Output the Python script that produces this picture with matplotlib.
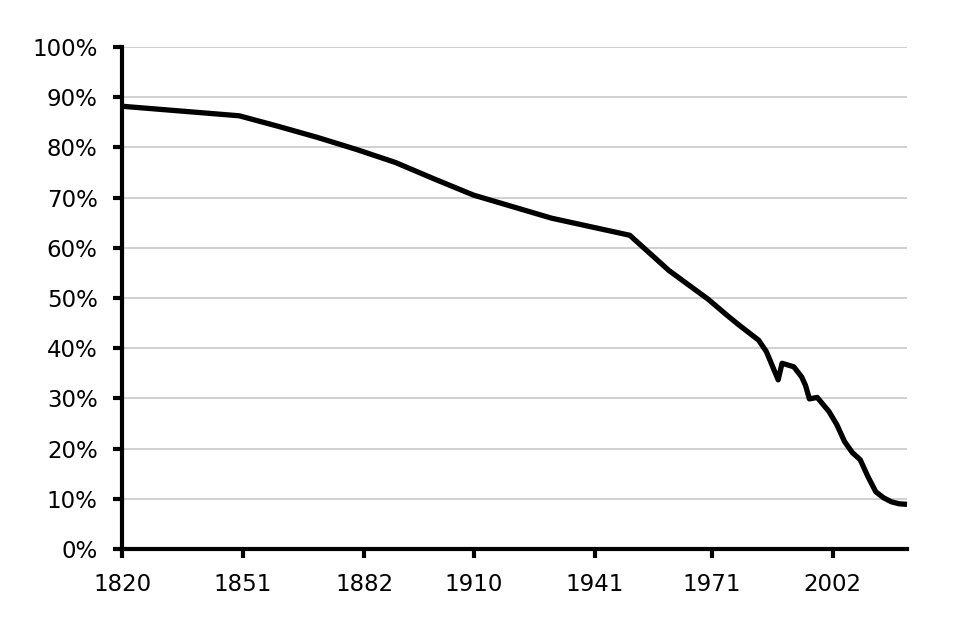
import numpy as np
import matplotlib
matplotlib.use("Agg")
import matplotlib.pyplot as plt
from matplotlib.ticker import FuncFormatter

# share (%)
years = [1820, 1850, 1860, 1870, 1880, 1890, 1900, 1910, 1920, 1930, 1940, 1950,
         1960, 1970, 1975, 1978, 1981, 1983, 1985, 1988, 1989, 1992, 1994, 1995,
         1996, 1998, 2001, 2003, 2005, 2007, 2009, 2011, 2013, 2015, 2017, 2019, 2021]
share = [88.2, 86.3, 84.2, 82.0, 79.6, 77.0, 73.7, 70.5, 68.2, 65.9, 64.2, 62.5,
         55.5, 49.8, 46.5, 44.6, 42.8, 41.6, 39.3, 33.7, 37.0, 36.3, 34.3, 32.6,
         29.9, 30.2, 27.4, 24.8, 21.4, 19.2, 17.8, 14.4, 11.4, 10.2, 9.4, 9.0, 8.9]

xticks = [1820, 1851, 1882, 1910, 1941, 1971, 2002]
yticks = np.arange(0, 101, 10)

plt.rcParams['font.family'] = ['DejaVu Sans']

fig = plt.figure(figsize=(9.57, 6.17), dpi=100)
ax = fig.add_axes([0.1275, 0.1102, 0.8203, 0.8136])

ax.plot(years, share, color='black', lw=3.8, solid_joinstyle='round',
        solid_capstyle='butt', clip_on=False, zorder=3)

ax.set_xlim(1820, 2021)
ax.set_ylim(0, 100)
ax.set_xticks(xticks)
ax.set_yticks(yticks)
ax.yaxis.set_major_formatter(FuncFormatter(lambda v, p: f"{v:.0f}%"))

ax.grid(axis='y', color='#c4c4c4', lw=1.1)
ax.set_axisbelow(True)
for s in ['top', 'right']:
    ax.spines[s].set_visible(False)
for s in ['left', 'bottom']:
    ax.spines[s].set_linewidth(3.0)
    ax.spines[s].set_zorder(4)

ax.tick_params(axis='both', direction='out', length=6.5, width=3.0,
               labelsize=16.5, colors='black')
ax.tick_params(axis='y', pad=11)
ax.tick_params(axis='x', pad=11)

fig.savefig("out.png", dpi=100, facecolor='white')
